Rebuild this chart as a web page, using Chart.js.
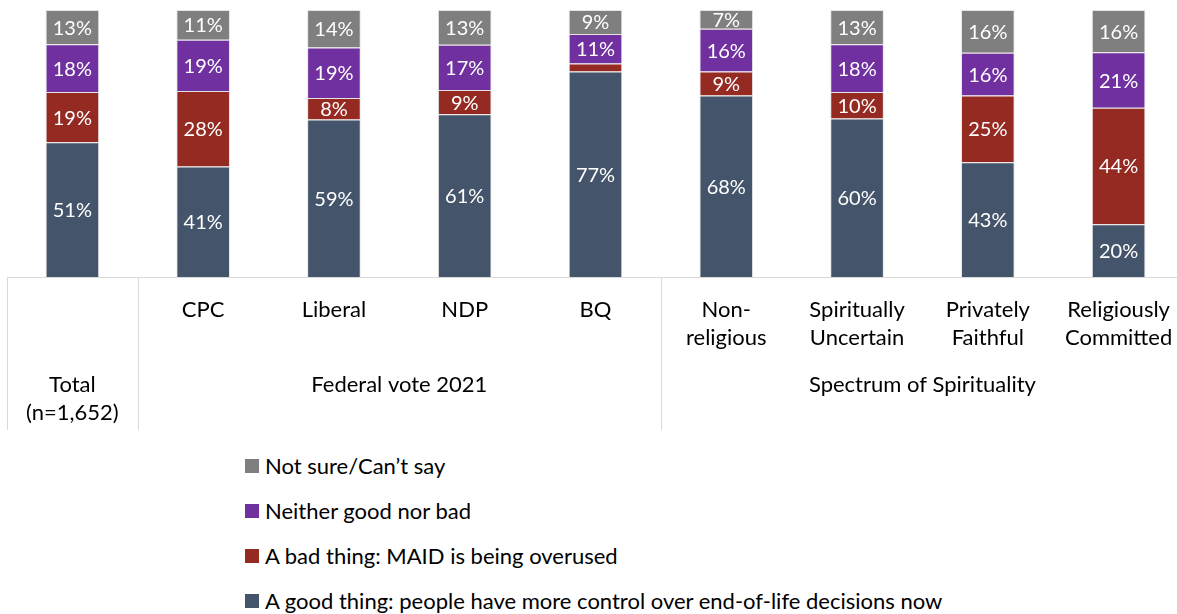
<!DOCTYPE html>
<html>
<head>
<meta charset="utf-8">
<script src="https://cdn.jsdelivr.net/npm/chart.js@4/dist/chart.umd.min.js"></script>
<style>
  html, body { margin: 0; padding: 0; background: #fff; overflow: hidden; }
  #wrap { position: relative; width: 1184px; height: 440px; }
  #legend { position: absolute; left: 245px; top: 443px; font-family: Lato, "Open Sans", sans-serif; font-size: 22px; color: #000; }
  .item { display: flex; align-items: center; height: 45px; }
  .box { width: 14px; height: 14px; margin-right: 6px; }
</style>
</head>
<body>
<div id="wrap"><canvas id="chart" width="1184" height="440"></canvas></div>
<div id="legend"></div>
<script>
const categories = ['Total', 'CPC', 'Liberal', 'NDP', 'BQ', 'Non-religious', 'Spiritually Uncertain', 'Privately Faithful', 'Religiously Committed'];
const tickLabels = [['Total', '(n=1,652)'], ['CPC'], ['Liberal'], ['NDP'], ['BQ'], ['Non-', 'religious'], ['Spiritually', 'Uncertain'], ['Privately', 'Faithful'], ['Religiously', 'Committed']];
const groupLabels = ['Federal vote 2021', 'Spectrum of Spirituality'];
const groupRanges = [[1, 4], [5, 8]];

const goodThing = [51, 41, 59, 61, 77, 68, 60, 43, 20];
const badThing = [19, 28, 8, 9, 3, 9, 10, 25, 44];
const neither = [18, 19, 19, 17, 11, 16, 18, 16, 21];
const notSure = [13, 11, 14, 13, 9, 7, 13, 16, 16];

const seriesNames = ['A good thing: people have more control over end-of-life decisions now', 'A bad thing: MAID is being overused', 'Neither good nor bad', 'Not sure/Can\u2019t say'];
const seriesColors = ['#44546a', '#952a22', '#7030a0', '#7f7f7f'];

const FONT = 'Lato, "Open Sans", sans-serif';
const series = [goodThing, badThing, neither, notSure];

// 100% stacked like the original: each column scaled to its own total
const totals = categories.map((c, i) => series.reduce((s, arr) => s + arr[i], 0));

const datasets = series.map((vals, k) => ({
  label: seriesNames[k],
  raw: vals,
  data: vals.map((v, i) => v / totals[i] * 100),
  backgroundColor: seriesColors[k],
  borderColor: 'rgba(210,210,210,0.6)',
  borderWidth: 1,
  barPercentage: 0.41,
  categoryPercentage: 1
}));

const labelPlugin = {
  id: 'labels',
  afterDatasetsDraw(chart) {
    const ctx = chart.ctx;
    ctx.save();
    ctx.fillStyle = '#fff';
    ctx.font = '20px ' + FONT;
    ctx.textAlign = 'center';
    ctx.textBaseline = 'middle';
    chart.data.datasets.forEach((ds, k) => {
      chart.getDatasetMeta(k).data.forEach((bar, i) => {
        const v = ds.raw[i];
        if (v < 5) return;
        ctx.fillText(v + '%', bar.x, (bar.y + bar.base) / 2 + 1);
      });
    });
    ctx.restore();
  },
  afterDraw(chart) {
    const ctx = chart.ctx;
    const area = chart.chartArea;
    const x = chart.scales.x;
    const bottom = area.bottom;
    ctx.save();
    ctx.strokeStyle = '#d9d9d9';
    ctx.lineWidth = 1;
    ctx.beginPath();
    ctx.moveTo(area.left, bottom + 0.5);
    ctx.lineTo(area.right, bottom + 0.5);
    const edges = [area.left, (x.getPixelForValue(0) + x.getPixelForValue(1)) / 2, (x.getPixelForValue(4) + x.getPixelForValue(5)) / 2];
    edges.forEach(e => {
      const px = Math.round(e) + 0.5;
      ctx.moveTo(px, bottom);
      ctx.lineTo(px, 430);
    });
    ctx.stroke();

    ctx.fillStyle = '#000';
    ctx.font = '22px ' + FONT;
    ctx.textAlign = 'center';
    ctx.textBaseline = 'middle';
    tickLabels.forEach((lines, i) => {
      const cx = x.getPixelForValue(i);
      const y0 = i === 0 ? 385 : 310;
      lines.forEach((t, j) => ctx.fillText(t, cx, y0 + j * 28));
    });
    groupLabels.forEach((g, n) => {
      const [a, b] = groupRanges[n];
      const cx = (x.getPixelForValue(a) + x.getPixelForValue(b)) / 2;
      ctx.fillText(g, cx, 385);
    });
    ctx.restore();
  }
};

const chart = new Chart(document.getElementById('chart'), {
  type: 'bar',
  data: { labels: categories, datasets: datasets },
  options: {
    responsive: false,
    animation: false,
    layout: { padding: { top: 10, bottom: 163, left: 7, right: 0 } },
    plugins: { legend: { display: false }, tooltip: { enabled: false } },
    scales: {
      x: { stacked: true, display: false },
      y: { stacked: true, display: false, min: 0, max: 100 }
    }
  },
  plugins: [labelPlugin]
});

// legend, top item = last series
const legend = document.getElementById('legend');
chart.data.datasets.slice().reverse().forEach(ds => {
  const row = document.createElement('div');
  row.className = 'item';
  const box = document.createElement('span');
  box.className = 'box';
  box.style.background = ds.backgroundColor;
  const txt = document.createElement('span');
  txt.textContent = ds.label;
  row.appendChild(box);
  row.appendChild(txt);
  legend.appendChild(row);
});
</script>
</body>
</html>
